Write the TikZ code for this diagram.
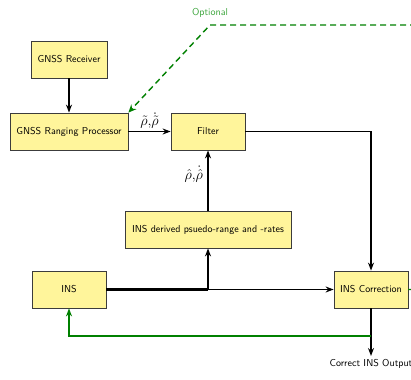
\documentclass[tikz,border=0pt]{standalone}
\usetikzlibrary{arrows.meta}
\definecolor{boxfill}{RGB}{255,245,155}
\definecolor{boxline}{RGB}{60,60,60}
\definecolor{optgreen}{RGB}{0,128,0}
\definecolor{opttext}{RGB}{60,165,60}
\begin{document}
\begin{tikzpicture}[x=1pt,y=-1pt,
  blk/.style={draw=boxline,fill=boxfill,line width=0.8pt,minimum height=37pt,
    inner sep=0pt,font=\sffamily\normalsize},
  arr/.style={line width=1.4pt,-{Stealth[length=8pt,width=6pt]}},
  fb/.style={optgreen,line width=1.4pt},
  lbl/.style={font=\Large}]
\useasboundingbox (0,0) rectangle (411,379);
\clip (0,0) rectangle (411,379);
\node[blk,minimum width=76pt] (rx) at (69,59.5) {GNSS Receiver};
\node[blk,minimum width=118pt] (rp) at (69,131.5) {GNSS Ranging Processor};
\node[blk,minimum width=74pt] (flt) at (208,131.5) {Filter};
\node[blk,minimum width=166pt] (der) at (208,229.5) {INS derived psuedo-range and -rates};
\node[blk,minimum width=74pt] (ins) at (69,289.5) {INS};
\node[blk,minimum width=74pt] (cor) at (371,289.5) {INS Correction};
\coordinate (j) at (208,289.5);
\coordinate (fbk) at (371,336);
\coordinate (out) at (371,356);
\coordinate (optc) at (210,25);
\coordinate (optr) at (430,25);
\coordinate (optd) at (430,289.5);
\node[font=\sffamily\normalsize,anchor=north] at (out) {Correct INS Output};
\draw[arr] (rx) -- (rp);
\draw[arr] (rp) -- node[lbl,above=-1pt] {$\tilde\rho,\!\dot{\tilde\rho}$} (flt);
\draw[arr] (der) -- node[lbl,left=1pt,pos=0.6] {$\hat\rho,\!\dot{\hat\rho}$} (flt);
\draw[arr] (flt.east) -| (cor.north);
\draw[line width=2.4pt] (ins.east) -- (j);
\draw[arr] (j) -- (cor.west);
\draw[arr] (j) -- (der.south);
\draw[arr] (cor.south) -- (out);
\draw[fb,-{Stealth[length=8pt,width=6pt]}] (fbk) -| (ins.south);
\draw[fb,dashed,dash pattern=on 6pt off 4pt,-{Stealth[length=8pt,width=7pt]}]
  (cor.east) -- (optd) -- (optr) -- (optc) -- (rp.north east);
\node[font=\sffamily\normalsize,text=opttext] at (210,13) {Optional};
\end{tikzpicture}
\end{document}
